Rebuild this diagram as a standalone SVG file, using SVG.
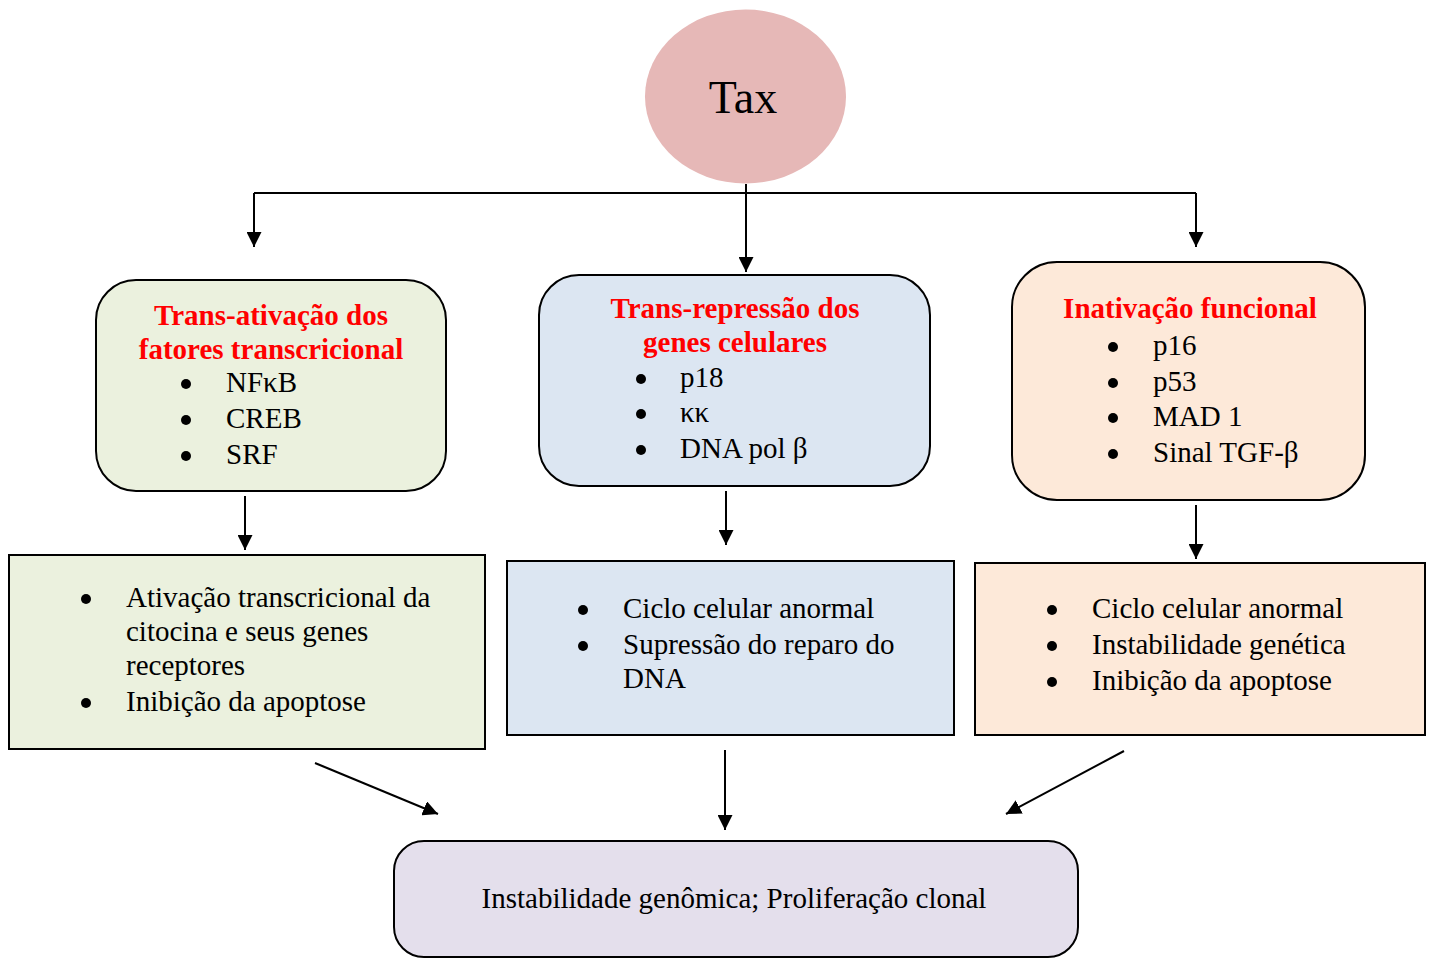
<svg xmlns="http://www.w3.org/2000/svg" width="1429" height="959" viewBox="0 0 1429 959">
<defs>
<marker id="ah" viewBox="0 0 10 10" refX="10" refY="5" markerWidth="15" markerHeight="15" markerUnits="userSpaceOnUse" orient="auto"><path d="M0,0 L10,5 L0,10 z" fill="#000"/></marker>
<style>
.t{font-family:"Liberation Serif","Times New Roman",serif;font-size:29px;fill:#000}
.h{font-family:"Liberation Serif","Times New Roman",serif;font-size:29px;font-weight:bold;fill:#ff0000;text-anchor:middle}
.box{stroke:#000;stroke-width:2}
.ln{stroke:#000;stroke-width:2;fill:none}
.ar{stroke:#000;stroke-width:2;fill:none;marker-end:url(#ah)}
circle.b{fill:#000}
</style>
</defs>
<rect width="1429" height="959" fill="#fff"/>
<g id="connectors">
<polyline class="ln" points="254,193 1196,193"/>
<line class="ar" x1="254" y1="193" x2="254" y2="247"/>
<line class="ar" x1="746" y1="184" x2="746" y2="272"/>
<line class="ar" x1="1196" y1="193" x2="1196" y2="247"/>
<line class="ar" x1="245" y1="496" x2="245" y2="550"/>
<line class="ar" x1="726" y1="491" x2="726" y2="545"/>
<line class="ar" x1="1196" y1="505" x2="1196" y2="559"/>
<line class="ar" x1="315" y1="763" x2="438" y2="814"/>
<line class="ar" x1="725" y1="750" x2="725" y2="830"/>
<line class="ar" x1="1124" y1="751" x2="1006" y2="814"/>
</g>
<g id="tax">
<ellipse cx="745.5" cy="96.5" rx="100.5" ry="87" fill="#e6b8b7"/>
<text x="743" y="113" style="font-family:'Liberation Serif','Times New Roman',serif;font-size:46px;text-anchor:middle">Tax</text>
</g>
<g id="box1">
<rect class="box" x="96" y="280" width="350" height="211" rx="40" fill="#ebf1de"/>
<text class="h" x="271" y="325">Trans-ativação dos</text>
<text class="h" x="271" y="359">fatores transcricional</text>
<circle class="b" cx="186" cy="384" r="5"/><text class="t" x="226" y="392">NFκB</text>
<circle class="b" cx="186" cy="420" r="5"/><text class="t" x="226" y="428">CREB</text>
<circle class="b" cx="186" cy="456" r="5"/><text class="t" x="226" y="464">SRF</text>
</g>
<g id="box2">
<rect class="box" x="539" y="275" width="391" height="211" rx="40" fill="#dce6f2"/>
<text class="h" x="735" y="318">Trans-repressão dos</text>
<text class="h" x="735" y="352">genes celulares</text>
<circle class="b" cx="641" cy="379" r="5"/><text class="t" x="680" y="387">p18</text>
<circle class="b" cx="641" cy="414" r="5"/><text class="t" x="680" y="422">κκ</text>
<circle class="b" cx="641" cy="450" r="5"/><text class="t" x="680" y="458">DNA pol β</text>
</g>
<g id="box3">
<rect class="box" x="1012" y="262" width="353" height="238" rx="45" fill="#fde9d9"/>
<text class="h" x="1190" y="318">Inativação funcional</text>
<circle class="b" cx="1113" cy="347" r="5"/><text class="t" x="1153" y="355">p16</text>
<circle class="b" cx="1113" cy="383" r="5"/><text class="t" x="1153" y="391">p53</text>
<circle class="b" cx="1113" cy="418" r="5"/><text class="t" x="1153" y="426">MAD 1</text>
<circle class="b" cx="1113" cy="454" r="5"/><text class="t" x="1153" y="462">Sinal TGF-β</text>
</g>
<g id="box4">
<rect class="box" x="9" y="555" width="476" height="194" fill="#ebf1de"/>
<circle class="b" cx="86" cy="599" r="5"/><text class="t" x="126" y="607">Ativação transcricional da</text>
<text class="t" x="126" y="641">citocina e seus genes</text>
<text class="t" x="126" y="675">receptores</text>
<circle class="b" cx="86" cy="703" r="5"/><text class="t" x="126" y="711">Inibição da apoptose</text>
</g>
<g id="box5">
<rect class="box" x="507" y="561" width="447" height="174" fill="#dce6f2"/>
<circle class="b" cx="583" cy="610" r="5"/><text class="t" x="623" y="618">Ciclo celular anormal</text>
<circle class="b" cx="583" cy="646" r="5"/><text class="t" x="623" y="654">Supressão do reparo do</text>
<text class="t" x="623" y="688">DNA</text>
</g>
<g id="box6">
<rect class="box" x="975" y="563" width="450" height="172" fill="#fde9d9"/>
<circle class="b" cx="1052" cy="610" r="5"/><text class="t" x="1092" y="618">Ciclo celular anormal</text>
<circle class="b" cx="1052" cy="646" r="5"/><text class="t" x="1092" y="654">Instabilidade genética</text>
<circle class="b" cx="1052" cy="682" r="5"/><text class="t" x="1092" y="690">Inibição da apoptose</text>
</g>
<g id="bottom">
<rect class="box" x="394" y="841" width="684" height="116" rx="30" fill="#e4dfec"/>
<text class="t" x="734" y="908" text-anchor="middle">Instabilidade genômica; Proliferação clonal</text>
</g>
</svg>
